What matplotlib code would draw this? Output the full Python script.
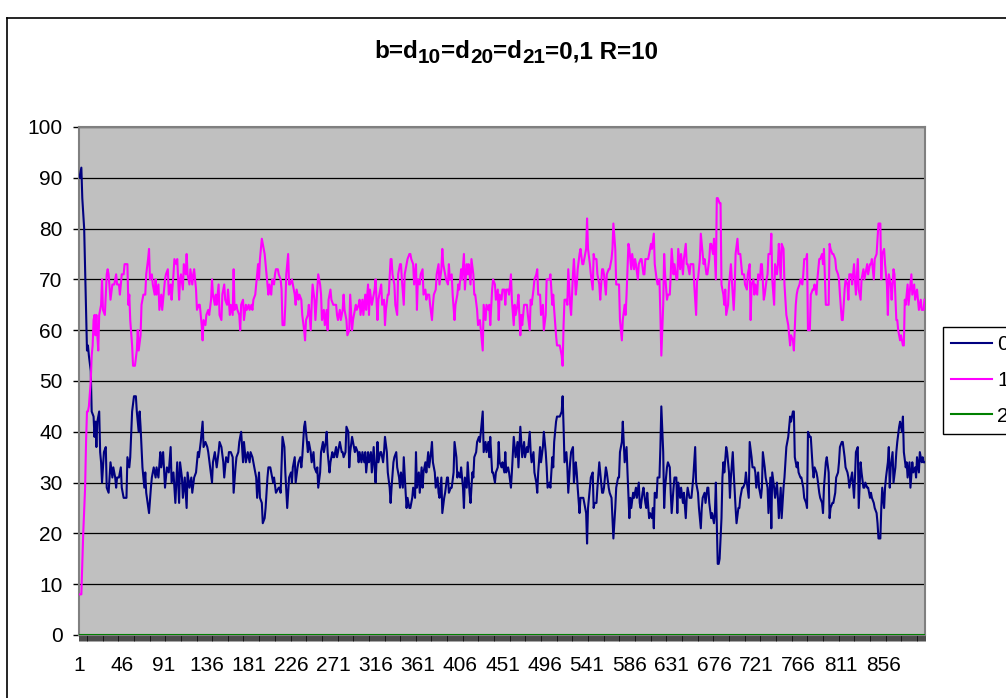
import numpy as np
import matplotlib.pyplot as plt
from matplotlib.lines import Line2D

plt.rcParams['font.family'] = ['Liberation Sans', 'DejaVu Sans']

# series "0": (step, value)
series0 = [
    (1, 90), (3, 92), (4, 86), (6, 80), (7, 72), (8, 64), (9, 56), (10, 57), (11, 55), (13, 52),
    (14, 44), (16, 43), (17, 39), (18, 42), (19, 37), (20, 42), (22, 44), (23, 36), (24, 34), (25, 30),
    (27, 36), (29, 37), (30, 29), (32, 28), (34, 34), (36, 31), (37, 33), (39, 31), (40, 29), (41, 31),
    (43, 31), (45, 33), (46, 29), (48, 27), (51, 27), (52, 35), (54, 33), (55, 35), (57, 44), (59, 47),
    (61, 47), (62, 44), (64, 40), (65, 44), (66, 41), (68, 33), (70, 29), (71, 32), (72, 28), (75, 24),
    (77, 29), (78, 31), (80, 33), (82, 31), (83, 33), (85, 31), (87, 36), (88, 33), (90, 36), (92, 29),
    (94, 33), (96, 32), (98, 37), (99, 30), (101, 32), (103, 26), (105, 34), (107, 26), (108, 34), (110, 31),
    (111, 27), (113, 31), (115, 25), (116, 32), (118, 29), (120, 31), (121, 28), (123, 31), (125, 32), (127, 36),
    (128, 35), (130, 38), (132, 42), (133, 37), (135, 38), (137, 37), (138, 36), (140, 33), (142, 30), (143, 34),
    (145, 36), (147, 33), (149, 36), (150, 38), (152, 37), (154, 34), (155, 31), (157, 35), (159, 34), (160, 36),
    (162, 36), (164, 35), (165, 28), (167, 33), (168, 35), (170, 36), (171, 38), (173, 40), (175, 34), (176, 38),
    (178, 34), (180, 36), (182, 34), (183, 36), (185, 35), (187, 33), (189, 31), (190, 27), (192, 32), (193, 27),
    (195, 26), (196, 22), (198, 23), (199, 25), (201, 31), (202, 33), (204, 33), (207, 30), (208, 31), (210, 28),
    (213, 29), (214, 29),
    (215, 28), (217, 39), (219, 37), (220, 32), (222, 25), (224, 31), (226, 32), (227, 30), (228, 33), (230, 35),
    (231, 30), (233, 33), (234, 34), (236, 35), (237, 33), (238, 35), (240, 41), (241, 42), (243, 38), (244, 36),
    (245, 38), (247, 36), (248, 34), (250, 36), (251, 33), (253, 32), (254, 33), (255, 29), (257, 32), (258, 36),
    (260, 38), (261, 36), (263, 38), (264, 40), (265, 36), (267, 32), (268, 34), (270, 36), (271, 35), (272, 35),
    (274, 37), (275, 35), (277, 37), (278, 38), (280, 36), (281, 36), (282, 35), (284, 36), (285, 41), (287, 40),
    (288, 33), (289, 36), (291, 39), (292, 38), (294, 36), (295, 37), (297, 36), (298, 34), (299, 36), (301, 34),
    (302, 36), (304, 34), (305, 36), (306, 32), (308, 36), (309, 34), (311, 36), (312, 32), (314, 37), (315, 33),
    (316, 30), (318, 38), (319, 34), (321, 36), (322, 36), (324, 34), (325, 36), (326, 39), (328, 36), (329, 32),
    (331, 29), (332, 26), (333, 29), (335, 34), (336, 35), (338, 36), (339, 33), (341, 31), (342, 29), (343, 32),
    (345, 29), (346, 35), (348, 28), (349, 25), (350, 27), (352, 25), (353, 25), (355, 27), (356, 29), (358, 27),
    (359, 36), (360, 29), (362, 32), (363, 28), (365, 33), (366, 29), (367, 32), (369, 34), (370, 32), (372, 36),
    (373, 33), (375, 36), (376, 38), (377, 34), (379, 32), (380, 29), (382, 31), (383, 28), (384, 27), (386, 31),
    (387, 24), (389, 27), (390, 28), (392, 31), (393, 31), (394, 28), (396, 29), (397, 29), (399, 32), (400, 38),
    (402, 35), (403, 31), (404, 32), (406, 31), (407, 33), (409, 29), (410, 25), (411, 31), (413, 29), (414, 34),
    (416, 28), (417, 26), (419, 32), (420, 31), (421, 35), (423, 36), (424, 38), (426, 39),
    (427, 38), (428, 40), (430, 44), (431, 36), (433, 38), (434, 36), (436, 38), (437, 35), (438, 39), (440, 32),
    (441, 32), (443, 30), (444, 32), (446, 33), (447, 38), (448, 34), (450, 33), (451, 34), (453, 32), (454, 36),
    (455, 32), (457, 33), (458, 32), (460, 29), (461, 32), (463, 39), (464, 37), (465, 35), (467, 38), (468, 33),
    (470, 41), (471, 38), (472, 35), (474, 38), (475, 35), (477, 37), (478, 36), (480, 40), (481, 36), (482, 34),
    (484, 36), (485, 32), (487, 30), (488, 28), (489, 32), (491, 37), (492, 34), (494, 37), (495, 40), (497, 36),
    (498, 33), (499, 29), (501, 30), (502, 29), (504, 35), (505, 33), (506, 38), (508, 42), (509, 43), (511, 43),
    (512, 43), (514, 44), (515, 47), (516, 41), (517, 34), (519, 36), (520, 33), (521, 28), (523, 34), (524, 36),
    (526, 37), (527, 30), (529, 34), (530, 32), (531, 29), (533, 24), (534, 27), (536, 27), (537, 27), (538, 26),
    (540, 24), (541, 18), (542, 25), (544, 29), (545, 31), (547, 32), (548, 25), (549, 26), (551, 26), (552, 29),
    (554, 34), (555, 32), (557, 28), (558, 28), (559, 29), (561, 33), (562, 32), (564, 29), (565, 28), (567, 27),
    (568, 23), (569, 19), (571, 25), (572, 29), (574, 31), (575, 31), (576, 36), (578, 38), (579, 42), (580, 38),
    (581, 34), (583, 37), (584, 32), (586, 23), (587, 27), (588, 25), (590, 28), (591, 27), (593, 29), (594, 27),
    (596, 30), (597, 26), (598, 25), (600, 28), (601, 29), (603, 26), (604, 25), (605, 28), (607, 23), (608, 24),
    (610, 23), (611, 25), (612, 21), (613, 28), (615, 27), (616, 31), (618, 31), (619, 37), (620, 45), (622, 36),
    (623, 25), (624, 29), (626, 33), (627, 34), (629, 33), (630, 28), (631, 24), (633, 29), (634, 31), (636, 31),
    (637, 24), (638, 30), (640, 27), (641, 29), (643, 26), (644, 28), (646, 23), (647, 27), (648, 29), (650, 27),
    (651, 27), (652, 27), (654, 31), (656, 37), (657, 30), (659, 28), (660, 25), (662, 21), (663, 25), (664, 27),
    (666, 28), (667, 26), (669, 29), (670, 29), (671, 26), (673, 23), (674, 24), (676, 22), (677, 24), (678, 30),
    (680, 14), (681, 14), (682, 15), (684, 23), (685, 31), (686, 34), (687, 32), (689, 37), (690, 36), (692, 32),
    (693, 27), (694, 31), (696, 36), (697, 32), (699, 25), (700, 22), (702, 25), (703, 25), (704, 27), (706, 29),
    (707, 29), (709, 30), (710, 32), (711, 30), (713, 27), (714, 38), (716, 35), (717, 33), (719, 33), (720, 32),
    (721, 29), (723, 32), (724, 29), (726, 27), (727, 29), (728, 36), (730, 33), (731, 31), (733, 29), (734, 24),
    (736, 31), (737, 21), (738, 32), (740, 29), (741, 27), (743, 30), (744, 27), (745, 23), (747, 29), (748, 23),
    (750, 29), (751, 31), (753, 37), (754, 38), (755, 39), (757, 43), (758, 42), (760, 44), (761, 44), (762, 35),
    (764, 33), (765, 34), (766, 32), (768, 31), (769, 31), (771, 29), (772, 27), (774, 26), (775, 25), (776, 40),
    (778, 39), (779, 39), (781, 33), (782, 31), (783, 33), (785, 32), (786, 31), (788, 28), (789, 27), (791, 26),
    (792, 24), (793, 29), (795, 34), (796, 35), (798, 32), (799, 23), (800, 25), (802, 26), (803, 26), (805, 28),
    (806, 31), (808, 32), (809, 34), (810, 37), (812, 38), (813, 38), (815, 35), (816, 33), (818, 32), (819, 31),
    (820, 29), (822, 31), (823, 32), (825, 27), (826, 31), (827, 36), (829, 37), (830, 25), (832, 34), (833, 32),
    (835, 29), (836, 29), (837, 30), (839, 29), (840, 29), (842, 27), (843, 28), (844, 27), (846, 26), (847, 25),
    (849, 24), (850, 22), (851, 19), (853, 19), (854, 25), (855, 29), (857, 25), (858, 29), (859, 31), (861, 34),
    (862, 37), (863, 29), (864, 33), (866, 36), (867, 30), (869, 33), (870, 36), (871, 38), (873, 41), (874, 42),
    (876, 40), (877, 43), (878, 36), (880, 33), (881, 34), (882, 31), (884, 34), (885, 29), (887, 34), (888, 32),
    (890, 33), (891, 31), (892, 35), (894, 32), (895, 36), (897, 34), (898, 35), (899, 34), (900, 34),
]

# series "1": (step, value)
series1 = [
    (1, 8), (3, 8), (4, 14), (5, 20), (7, 29), (8, 38), (9, 44), (10, 44), (11, 45), (13, 50),
    (14, 55), (15, 57), (16, 62), (17, 63), (18, 59), (19, 63), (20, 59), (21, 56), (22, 63), (24, 65),
    (25, 70), (26, 64), (28, 63), (30, 71), (31, 72), (32, 71), (34, 66), (36, 69), (37, 69), (38, 69),
    (40, 71), (41, 69), (43, 69), (44, 67), (46, 71), (48, 71), (49, 73), (52, 73), (53, 65), (54, 67),
    (55, 62), (57, 57), (58, 53), (60, 53), (62, 56), (63, 60), (64, 56), (66, 59), (67, 65), (69, 67),
    (71, 67), (72, 71), (74, 74), (75, 76), (76, 70), (78, 71), (79, 69), (81, 67), (82, 70), (83, 67),
    (85, 69), (86, 64), (88, 67), (89, 64), (91, 68), (92, 70), (93, 71), (95, 72), (96, 67), (98, 69),
    (99, 66), (101, 71), (102, 74), (104, 73), (105, 74), (107, 66), (108, 70), (109, 71), (111, 68), (112, 73),
    (114, 71), (115, 75), (116, 71), (118, 69), (119, 72), (121, 69), (122, 71), (123, 72), (125, 68), (126, 64),
    (128, 65), (129, 65), (131, 61), (132, 58), (133, 62), (135, 61), (136, 63), (138, 64), (139, 63), (141, 66),
    (142, 70), (143, 67), (145, 65), (146, 67), (147, 65), (149, 69), (150, 63), (152, 62), (153, 67), (155, 69),
    (156, 66), (158, 65), (159, 68), (161, 63), (162, 65), (164, 63), (165, 72), (166, 64), (168, 65), (169, 64),
    (171, 63), (172, 60), (173, 65), (175, 66), (176, 62), (178, 65), (179, 64), (181, 65), (182, 64), (184, 65),
    (185, 64), (186, 66), (188, 67), (189, 69), (191, 73), (192, 70), (193, 74), (195, 78), (196, 77), (198, 75),
    (199, 73), (201, 69), (202, 67), (203, 69), (205, 67), (206, 70), (208, 69), (209, 71), (210, 72), (212, 72),
    (213, 71),
    (215, 70), (216, 68), (217, 61), (219, 61), (220, 65), (221, 71), (223, 75), (224, 69), (225, 69), (227, 70),
    (228, 69), (230, 67), (231, 65), (232, 68), (234, 66), (235, 67), (237, 66), (238, 63), (240, 60), (241, 58),
    (242, 62), (244, 63), (245, 65), (247, 60), (248, 65), (249, 69), (251, 66), (252, 62), (254, 68), (255, 71),
    (257, 69), (258, 67), (259, 62), (261, 64), (262, 61), (264, 64), (265, 60), (266, 66), (268, 68), (269, 66),
    (271, 65), (272, 65), (274, 65), (275, 63), (276, 62), (278, 64), (279, 62), (281, 64), (282, 67), (283, 64),
    (285, 62), (286, 59), (288, 60), (289, 67), (291, 60), (292, 62), (293, 63), (295, 65), (296, 64), (298, 65),
    (299, 66), (300, 63), (302, 66), (303, 63), (305, 67), (306, 64), (308, 69), (309, 63), (310, 68), (312, 65),
    (313, 66), (315, 68), (316, 70), (318, 62), (319, 66), (320, 67), (322, 69), (323, 65), (325, 66), (326, 61),
    (327, 64), (329, 67), (330, 67), (332, 74), (333, 74), (334, 71), (336, 69), (337, 65), (339, 63), (340, 71),
    (342, 73), (343, 73), (344, 70), (346, 65), (347, 71), (349, 73), (350, 74), (352, 75), (353, 75), (354, 74),
    (356, 73), (357, 69), (359, 73), (360, 64), (361, 70), (363, 69), (364, 71), (366, 72), (367, 67), (369, 68),
    (370, 66), (371, 67), (373, 67), (374, 65), (376, 62), (377, 65), (378, 67), (380, 68), (381, 71), (383, 73),
    (384, 69), (386, 72), (387, 76), (388, 73), (390, 71), (391, 70), (393, 69), (394, 73), (395, 70), (397, 71),
    (398, 67), (400, 62), (401, 65), (403, 67), (404, 69), (405, 68), (407, 72), (408, 70), (410, 75), (411, 68),
    (413, 73), (414, 71), (415, 73), (417, 69), (418, 74), (420, 71), (421, 67), (422, 67), (424, 64), (425, 61),
    (427, 62), (428, 60), (430, 56), (431, 65), (433, 62), (434, 65), (436, 64), (437, 65), (438, 61), (440, 68),
    (441, 70), (443, 69), (444, 66), (446, 68), (447, 62), (448, 67), (450, 66), (451, 68), (453, 68), (454, 65),
    (455, 68), (457, 68), (458, 67), (460, 71), (461, 66), (463, 61), (464, 65), (465, 63), (467, 65), (468, 67),
    (470, 59), (471, 63), (472, 61), (474, 65), (475, 65), (477, 65), (478, 63), (480, 60), (481, 66), (482, 65),
    (484, 68), (485, 70), (487, 71), (488, 72), (489, 67), (491, 67), (492, 63), (494, 65), (495, 60), (497, 63),
    (498, 70), (499, 70), (501, 70), (502, 71), (504, 65), (505, 67), (506, 64), (508, 59), (509, 57), (511, 57),
    (512, 57), (514, 55), (515, 53), (516, 61), (517, 66), (519, 66), (520, 65), (521, 72), (523, 65), (524, 63),
    (526, 71), (527, 74), (529, 67), (530, 69), (531, 72), (533, 75), (534, 76), (536, 73), (537, 73), (538, 74),
    (540, 76), (541, 82), (542, 76), (544, 73), (545, 71), (547, 68), (548, 75), (549, 74), (551, 74), (552, 71),
    (554, 69), (555, 66), (557, 72), (558, 72), (559, 71), (561, 67), (562, 71), (564, 72), (565, 72), (567, 74),
    (568, 76), (569, 81), (571, 76), (572, 69), (574, 69), (575, 69), (576, 62), (578, 58), (579, 62), (581, 65),
    (582, 63), (583, 67), (585, 77), (586, 76), (588, 72), (589, 75), (591, 72), (592, 74), (593, 73), (595, 70),
    (596, 73), (598, 74), (599, 74), (601, 71), (602, 71), (603, 74), (605, 74), (606, 74), (608, 76), (609, 77),
    (610, 76), (612, 79), (613, 73), (615, 70), (616, 69), (618, 70), (619, 63), (620, 55), (622, 65), (623, 75),
    (624, 71), (626, 66), (627, 67), (629, 67), (630, 71), (631, 76), (633, 71), (634, 73), (636, 70), (637, 70),
    (638, 76), (640, 72), (641, 75), (643, 71), (644, 74), (646, 77), (647, 73), (648, 73), (650, 71),
    (651, 73), (652, 73), (654, 73), (655, 69), (657, 63), (658, 70), (659, 70), (661, 74), (662, 79), (664, 75),
    (665, 73), (666, 74), (668, 71), (669, 71), (671, 74), (672, 77), (673, 77), (675, 75), (676, 78), (678, 70),
    (679, 86), (680, 86), (682, 85), (683, 85), (684, 69), (686, 67), (687, 65), (688, 68), (689, 63), (691, 65),
    (692, 69), (694, 73), (695, 70), (697, 64), (698, 68), (699, 75), (701, 78), (702, 75), (704, 75), (705, 73),
    (706, 71), (708, 71), (709, 69), (711, 68), (712, 71), (714, 73), (715, 62), (716, 69), (718, 70), (719, 67),
    (720, 69), (722, 67), (723, 71), (725, 70), (726, 73), (727, 73), (729, 66), (730, 67), (732, 70), (733, 71),
    (734, 75), (736, 75), (737, 79), (738, 70), (740, 65), (741, 73), (743, 71), (744, 73), (745, 77), (747, 70),
    (748, 77), (750, 76), (751, 69), (753, 63), (754, 62), (755, 61), (757, 57), (758, 59), (760, 58), (761, 56),
    (763, 65), (764, 67), (765, 68), (767, 69), (768, 70), (770, 69), (771, 71), (772, 74), (774, 74), (775, 75),
    (776, 60), (778, 60), (779, 67), (781, 68), (782, 68), (783, 69), (785, 67), (786, 70), (788, 74), (789, 74),
    (791, 75), (792, 73), (793, 76), (795, 65), (796, 65), (798, 65), (799, 77), (800, 76), (802, 75), (803, 75),
    (805, 74), (806, 72), (808, 71), (809, 70), (810, 67), (812, 62), (813, 62), (815, 68), (816, 70), (818, 69),
    (819, 66), (820, 71), (822, 71), (823, 69), (825, 73), (826, 70), (827, 67), (829, 74), (830, 68), (832, 66),
    (833, 70), (835, 72), (836, 70), (837, 71), (839, 73), (840, 71), (842, 73), (843, 73), (844, 74), (846, 70),
    (847, 74), (849, 75), (850, 78), (851, 81), (853, 81), (854, 70), (855, 75), (857, 76), (858, 73), (860, 69),
    (861, 63), (862, 71), (864, 69), (865, 66), (867, 72), (868, 71), (870, 62), (871, 62), (872, 60), (874, 58),
    (875, 59), (877, 57), (878, 57), (879, 66), (880, 65), (882, 69), (883, 65), (885, 69), (886, 71), (887, 67),
    (889, 69), (890, 66), (892, 68), (893, 66), (894, 64), (896, 66), (897, 64), (899, 64), (900, 66),
]

# series "2" stays at zero over the whole run
series2 = [(1, 0), (900, 0)]

series_labels = ['0', '1', '2']
series_colors = ['#000080', '#FF00FF', '#008000']
n_steps = 900
x_tick_steps = list(range(1, 857, 45))
y_ticks = list(range(0, 101, 10))
title_parts = [('b=d', False), ('10', True), ('=d', False), ('20', True),
               ('=d', False), ('21', True), ('=0,1 R=10', False)]

W, H = 1006, 698
fig = plt.figure(figsize=(W / 100, H / 100), dpi=100)
ax = fig.add_axes([79 / W, 1 - 635 / H, (925 - 79) / W, (635 - 127) / H])
ax.set_facecolor('#C0C0C0')
for sp in ax.spines.values():
    sp.set_color('#808080')
    sp.set_linewidth(1.5)

for pts, lab, col in zip([series0, series1, series2], series_labels, series_colors):
    xs, ys = zip(*pts)
    ax.plot(xs, ys, color=col, lw=1.5 if lab != '2' else 2.2, label=lab, zorder=3)

ax.set_xlim(0.5, n_steps + 0.5)
ax.set_ylim(0, 100)
ax.set_yticks(y_ticks)
ax.yaxis.grid(True, color='black', lw=0.9)
ax.set_axisbelow(True)
ax.tick_params(axis='y', direction='out', length=4.3, width=1, color='black',
               pad=7.5, labelsize=15)

ax.set_xticks(x_tick_steps)
ax.set_xticklabels([str(s) for s in x_tick_steps])
ax.set_xticks(np.arange(0.5, n_steps + 1, 1), minor=True)
ax.tick_params(axis='x', which='major', length=0, pad=15, labelsize=15)
ax.tick_params(axis='x', which='minor', direction='out', length=4.3, width=0.5, color='black')

leg = fig.legend(loc='lower left', bbox_to_anchor=(943 / W, 1 - 434 / H),
                 frameon=True, fancybox=False, edgecolor='black', framealpha=1,
                 fontsize=15, handlelength=1.95, handletextpad=0.25,
                 borderpad=0.4, labelspacing=0.8, borderaxespad=0)
leg.get_frame().set_linewidth(1.0)
for h in leg.get_lines():
    h.set_linewidth(1.5)

# outer chart frame
fig.add_artist(Line2D([7 / W, 7 / W], [0, 1 - 18 / H], color='black', lw=1.2,
                      transform=fig.transFigure))
fig.add_artist(Line2D([7 / W, 1], [1 - 18 / H, 1 - 18 / H], color='black', lw=1.2,
                      transform=fig.transFigure))

# title with subscripts, laid out piece by piece
r = fig.canvas.get_renderer()
base_size = 17.5
pieces = []
total = 0
for s, sub in title_parts:
    t = fig.text(0, 0, s, fontsize=base_size * (0.85 if sub else 1), fontweight='bold',
                 va='baseline', ha='left')
    w = t.get_window_extent(r).width
    pieces.append((t, sub, w))
    total += w
x = 516 - total / 2
for t, sub, w in pieces:
    y = 58 + (5 if sub else 0)
    t.set_position((x / W, 1 - y / H))
    x += w

fig.savefig('out.png', dpi=100)
